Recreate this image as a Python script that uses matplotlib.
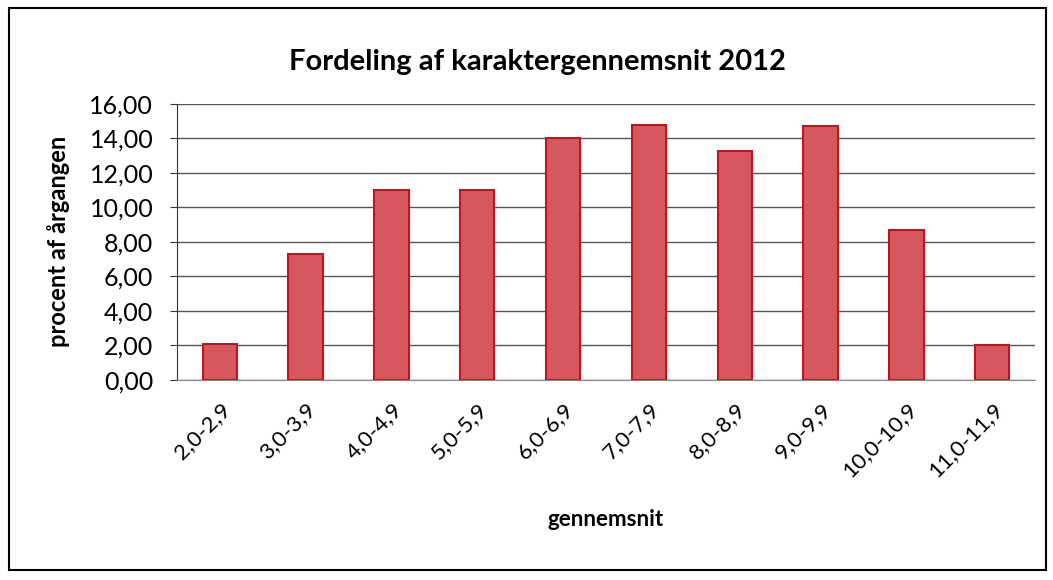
import numpy as np
import matplotlib
matplotlib.use("Agg")
import matplotlib.pyplot as plt
from matplotlib.patches import Rectangle

plt.rcParams['font.family'] = ['Lato', 'DejaVu Sans']

# data
categories = ["2,0-2,9", "3,0-3,9", "4,0-4,9", "5,0-5,9", "6,0-6,9",
              "7,0-7,9", "8,0-8,9", "9,0-9,9", "10,0-10,9", "11,0-11,9"]
percent = [2.1, 7.3, 11.0, 11.0, 14.0, 14.8, 13.25, 14.7, 8.7, 2.0]
yticks = [0, 2, 4, 6, 8, 10, 12, 14, 16]

fig = plt.figure(figsize=(10.53, 5.80), dpi=100)
ax = fig.add_axes([0.168, 0.345, 0.815, 0.476])

x = np.arange(len(categories))
ax.bar(x, percent, width=0.4, color='#d6575e', edgecolor='#c0141e', linewidth=1.5, zorder=3)

ax.set_xlim(-0.5, len(categories) - 0.5)
ax.set_ylim(0, 16)
ax.set_yticks(yticks)
ax.set_yticklabels([f"{v:.2f}".replace('.', ',') for v in yticks], fontsize=18)
ax.set_xticks(x)
ax.set_xticklabels(categories, rotation=45, ha='right', rotation_mode='anchor', fontsize=16)
ax.tick_params(axis='x', length=0, pad=14)
ax.tick_params(axis='y', length=5, direction='out', color='#333333', pad=12)

ax.grid(axis='y', color='#555555', linewidth=1.0, zorder=0)
for s in ['top', 'right']:
    ax.spines[s].set_visible(False)
ax.spines['left'].set_color('#333333')
ax.spines['bottom'].set_color('#888888')

ax.set_ylabel("procent af årgangen", fontsize=17, fontweight='bold', labelpad=14)
ax.set_xlabel("gennemsnit", fontsize=16, fontweight='bold', labelpad=20)
fig.text(0.51, 0.893, "Fordeling af karaktergennemsnit 2012", ha='center', va='center',
         fontsize=21, fontweight='bold')

# outer chart border
fig.patches.append(Rectangle((0.009, 0.017), 0.984, 0.969, transform=fig.transFigure,
                             fill=False, edgecolor='black', linewidth=1.5))

fig.savefig("out.png", dpi=100)
